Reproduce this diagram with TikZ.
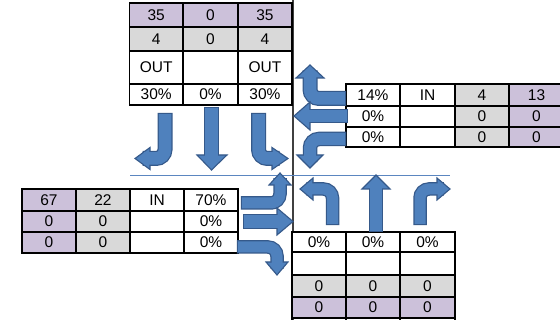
\documentclass[tikz,border=0pt]{standalone}
\usepackage{fontspec}
\setmainfont{Liberation Sans}
\definecolor{pur}{HTML}{CCC1DA}
\definecolor{gry}{HTML}{D9D9D9}
\definecolor{afl}{HTML}{4F81BD}
\definecolor{abd}{HTML}{35598A}
\definecolor{hln}{HTML}{5B86C0}
\definecolor{vln}{HTML}{404040}
\tikzset{
  cellbox/.style={draw=black, line width=1.5pt},
  celltext/.style={font=\fontsize{15.5}{17}\selectfont, inner sep=0pt},
  shaftout/.style={draw=abd, line cap=rect, rounded corners=9pt},
  shaftin/.style={draw=afl, line cap=rect, rounded corners=9pt},
  headst/.style={fill=afl, draw=abd, line width=1.1pt, line join=miter},
}
\newcommand\cellb[7]{\filldraw[cellbox, fill=#6] (#2,#3) rectangle (#4,#5);
  \node[celltext] (#1) at ({(#2+#4)/2},{(#3+#5)/2}) {#7};}
\newcommand\barrow[4]{%
  \draw[shaftout, line width=#2] #3;
  \filldraw[headst] #4;
  \draw[shaftin, line width=#1] #3;}
\begin{document}
\begin{tikzpicture}[x=1pt,y=-1pt]
\useasboundingbox[fill=white] (0,0) rectangle (560,320);
% guide lines
\coordinate (vt) at (293,0);
\coordinate (vb) at (293,320);
\coordinate (hl) at (130,175);
\coordinate (hr) at (450,175);
\draw[vln, line width=1.2pt] (vt) -- (vb);
\draw[hln, line width=0.9pt] (hl) -- (hr);
% top table
\cellb{ta1}{129.5}{3}{183}{27}{pur}{35}
\cellb{ta2}{183}{3}{238}{27}{pur}{0}
\cellb{ta3}{238}{3}{292}{27}{pur}{35}
\cellb{tb1}{129.5}{27}{183}{51}{gry}{4}
\cellb{tb2}{183}{27}{238}{51}{gry}{0}
\cellb{tb3}{238}{27}{292}{51}{gry}{4}
\cellb{tc1}{129.5}{51}{183}{84}{white}{OUT}
\cellb{tc2}{183}{51}{238}{84}{white}{}
\cellb{tc3}{238}{51}{292}{84}{white}{OUT}
\cellb{td1}{129.5}{84}{183}{105}{white}{30\%}
\cellb{td2}{183}{84}{238}{105}{white}{0\%}
\cellb{td3}{238}{84}{292}{105}{white}{30\%}
% right table
\cellb{ra1}{346}{84}{400}{106}{white}{14\%}
\cellb{ra2}{400}{84}{455}{106}{white}{IN}
\cellb{ra3}{455}{84}{509}{106}{gry}{4}
\cellb{ra4}{509}{84}{564}{106}{pur}{13}
\cellb{rb1}{346}{106}{400}{127}{white}{0\%}
\cellb{rb2}{400}{106}{455}{127}{white}{}
\cellb{rb3}{455}{106}{509}{127}{gry}{0}
\cellb{rb4}{509}{106}{564}{127}{pur}{0}
\cellb{rc1}{346}{127}{400}{147}{white}{0\%}
\cellb{rc2}{400}{127}{455}{147}{white}{}
\cellb{rc3}{455}{127}{509}{147}{gry}{0}
\cellb{rc4}{509}{127}{564}{147}{pur}{0}
% left table
\cellb{la1}{22}{189}{76}{211}{pur}{67}
\cellb{la2}{76}{189}{130}{211}{gry}{22}
\cellb{la3}{130}{189}{184}{211}{white}{IN}
\cellb{la4}{184}{189}{238}{211}{white}{70\%}
\cellb{lb1}{22}{211}{76}{232}{pur}{0}
\cellb{lb2}{76}{211}{130}{232}{gry}{0}
\cellb{lb3}{130}{211}{184}{232}{white}{}
\cellb{lb4}{184}{211}{238}{232}{white}{0\%}
\cellb{lc1}{22}{232}{76}{253}{pur}{0}
\cellb{lc2}{76}{232}{130}{253}{gry}{0}
\cellb{lc3}{130}{232}{184}{253}{white}{}
\cellb{lc4}{184}{232}{238}{253}{white}{0\%}
% bottom table
\cellb{ba1}{292}{232}{346}{252}{white}{0\%}
\cellb{ba2}{346}{232}{400}{252}{white}{0\%}
\cellb{ba3}{400}{232}{455}{252}{white}{0\%}
\cellb{bb1}{292}{252}{346}{275}{white}{}
\cellb{bb2}{346}{252}{400}{275}{white}{}
\cellb{bb3}{400}{252}{455}{275}{white}{}
\cellb{bc1}{292}{275}{346}{297}{gry}{0}
\cellb{bc2}{346}{275}{400}{297}{gry}{0}
\cellb{bc3}{400}{275}{455}{297}{gry}{0}
\cellb{bd1}{292}{297}{346}{318}{pur}{0}
\cellb{bd2}{346}{297}{400}{318}{pur}{0}
\cellb{bd3}{400}{297}{455}{318}{pur}{0}
\draw[cellbox] (292,318) rectangle (346,340) (346,318) rectangle (400,340) (400,318) rectangle (455,340);
% arrows: southbound (below top table)
\barrow{12.5pt}{15pt}{(165,120.5) |- (150,158.5)}{(150,147.5) -- (150,169.5) -- (135,158.5) -- cycle}
\barrow{13pt}{15.5pt}{(211.5,114.5) -- (211.5,155)}{(197,155) -- (227,155) -- (211.5,170) -- cycle}
\barrow{12.5pt}{15pt}{(258.5,120.5) |- (272,158.5)}{(272,147.5) -- (272,169.5) -- (288,158.5) -- cycle}
% westbound (left of right table)
\barrow{12.5pt}{15pt}{(338.5,98.5) -| (310,78)}{(296,78) -- (324,78) -- (310,65) -- cycle}
\barrow{12pt}{14.5pt}{(341,116) -- (310,116)}{(310,102) -- (310,130) -- (294,116) -- cycle}
\barrow{12pt}{14.5pt}{(339,139) -| (310,155)}{(297,155) -- (323,155) -- (310,168) -- cycle}
% eastbound (right of left table)
\barrow{11pt}{13.5pt}{(247.5,203) -| (280,185)}{(269,185) -- (291,185) -- (280,173) -- cycle}
\barrow{13pt}{15.5pt}{(250.5,221.5) -- (277,221.5)}{(277,208) -- (277,235) -- (293,221.5) -- cycle}
\barrow{11pt}{13.5pt}{(243.5,247) -| (277,262)}{(266,262) -- (288,262) -- (277,275) -- cycle}
% northbound (above bottom table)
\barrow{11pt}{13.5pt}{(332.5,218.5) |- (313,189)}{(313,178) -- (313,200) -- (300,189) -- cycle}
\barrow{12pt}{14.5pt}{(376,225) -- (376,189)}{(362,189) -- (390,189) -- (376,175) -- cycle}
\barrow{11pt}{13.5pt}{(420,218.5) |- (437,189)}{(437,178) -- (437,200) -- (450,189) -- cycle}
\end{tikzpicture}
\end{document}
